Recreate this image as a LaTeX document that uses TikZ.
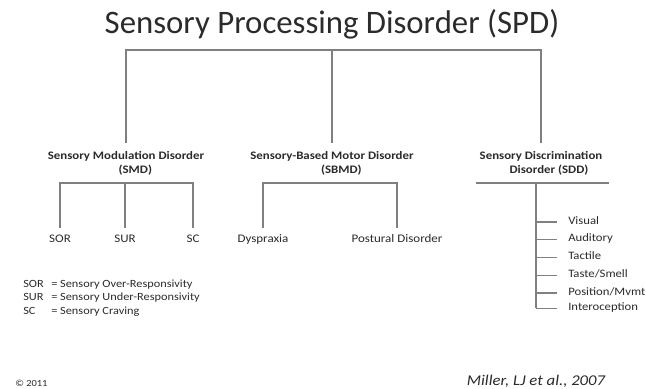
\documentclass[tikz,border=0pt]{standalone}
\usepackage{fontspec}
\setmainfont{Carlito}
\newfontfamily\smallf{Carlito}[FakeStretch=1.12]
\definecolor{txt}{HTML}{2B2B2B}
\definecolor{lin}{HTML}{808080}
\tikzset{
  ln/.style={draw=lin, line width=1.2pt},
  lnthin/.style={draw=lin, line width=0.9pt},
  titletext/.style={font=\fontsize{24.6}{28}\selectfont, text=txt, inner sep=0pt},
  headtext/.style={font=\smallf\fontsize{8.6}{9.8}\selectfont\bfseries, text=txt, align=center, inner xsep=0pt, inner ysep=6.5pt},
  leaftext/.style={font=\smallf\fontsize{8.7}{10}\selectfont, text=txt, anchor=north, inner xsep=0pt, inner ysep=5pt, text height=5.5pt, text depth=1.8pt},
  listtext/.style={font=\smallf\fontsize{8.5}{10}\selectfont, text=txt, anchor=west, inner sep=0pt, text height=5.5pt, text depth=1.8pt},
  legtext/.style={font=\smallf\fontsize{8.25}{10}\selectfont, text=txt, anchor=west, inner sep=0pt, text height=5.3pt, text depth=1.7pt},
}
\begin{document}
\begin{tikzpicture}[x=0.75pt, y=-0.75pt]
\path[use as bounding box, fill=white] (0,0) rectangle (646,389);

% title
\node[titletext, anchor=base] (spd) at (332,33) {Sensory Processing Disorder (SPD)};
\coordinate (topbar) at (332,50);

% level 1
\node[headtext, anchor=north] (smd) at (126,143) {Sensory Modulation Disorder\\\hspace*{14pt}(SMD)};
\node[headtext, anchor=north] (sbmd) at (332,143) {Sensory-Based Motor Disorder\\\hspace*{14pt}(SBMD)};
\node[headtext, anchor=north] (sdd) at (541,143) {Sensory Discrimination\\\hspace*{12pt}Disorder (SDD)};

\draw[lnthin] (smd.north) |- (topbar) -| (sdd.north);
\draw[lnthin] (sbmd.north) -- (sbmd.north |- topbar);

% SMD branch
\coordinate (smdbar) at (125,183);
\node[leaftext] (sor) at (60,228) {SOR};
\node[leaftext] (sur) at (125,228) {SUR};
\node[leaftext] (sc) at (193,228) {SC};
\draw[ln] (sor.north) |- (smdbar) -| (sc.north);
\draw[ln] (sur.north) -- (sur.north |- smdbar);

% SBMD branch
\coordinate (sbmdbar) at (330,183);
\node[leaftext] (dys) at (263,228) {Dyspraxia};
\node[leaftext] (pos) at (397,228) {Postural Disorder};
\draw[ln] (dys.north) |- (sbmdbar) -| (pos.north);

% SDD branch
\coordinate (sddL) at (476,183);
\coordinate (sddR) at (609,183);
\coordinate (stem) at (536,183);
\draw[ln] (sddL) -- (sddR);
\node[listtext] (v1) at (568,221.7) {Visual};
\node[listtext] (v2) at (568,239.3) {Auditory};
\node[listtext] (v3) at (568,257.3) {Tactile};
\node[listtext] (v4) at (568,275.3) {Taste/Smell};
\node[listtext] (v5) at (568,292.7) {Position/Mvmt};
\node[listtext] (v6) at (568,308.3) {Interoception};
\draw[ln] (stem) -- (stem |- v6.west);
\foreach \v in {v1,v2,v3,v4,v5,v6}{
  \draw[ln, shorten <=8.5pt] (\v.west) -- (\v.west -| stem);
}

% legend
\node[legtext] (l1a) at (23,285) {SOR};
\node[legtext] (l1b) at (51,285) {= Sensory Over-Responsivity};
\node[legtext] (l2a) at (23,298.5) {SUR};
\node[legtext] (l2b) at (51,298.5) {= Sensory Under-Responsivity};
\node[legtext] (l3a) at (23,312) {SC};
\node[legtext] (l3b) at (51,312) {= Sensory Craving};

% footer
\node[font=\smallf\fontsize{7}{8}\selectfont, text=txt, anchor=west, inner sep=0pt] (copy) at (15,383) {© 2011};
\node[font=\smallf\fontsize{11.2}{13}\selectfont\itshape, text=txt, inner sep=0pt] (cite) at (536,381) {Miller, LJ et al., 2007};
\end{tikzpicture}
\end{document}
